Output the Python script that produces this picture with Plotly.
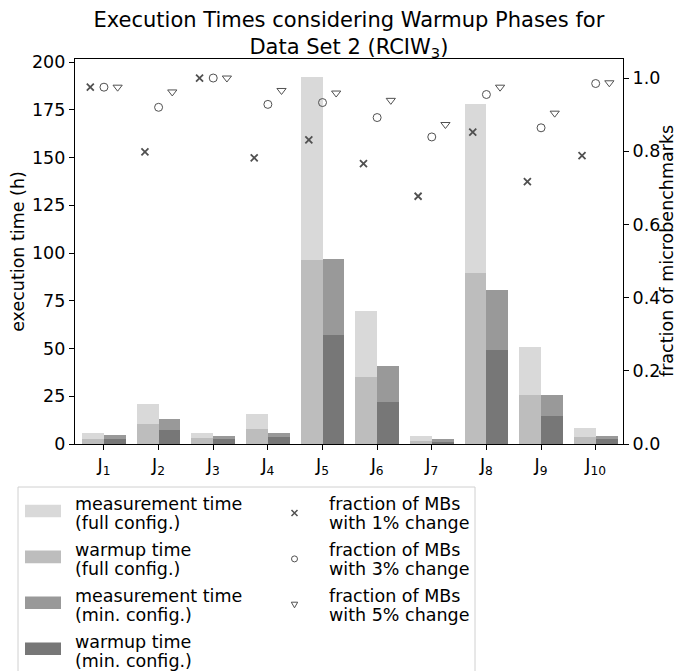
import plotly.graph_objects as go

jobs = ["J<sub>1</sub>", "J<sub>2</sub>", "J<sub>3</sub>", "J<sub>4</sub>", "J<sub>5</sub>",
        "J<sub>6</sub>", "J<sub>7</sub>", "J<sub>8</sub>", "J<sub>9</sub>", "J<sub>10</sub>"]

warmup_full = [2.5, 10.5, 3.3, 7.8, 96.3, 35.0, 1.8, 89.4, 25.4, 3.9]
measure_full = [3.4, 10.4, 2.6, 7.9, 95.9, 34.8, 2.6, 88.6, 25.6, 4.7]
warmup_min = [2.5, 7.3, 2.6, 3.8, 57.0, 22.2, 1.3, 49.4, 14.9, 2.4]
measure_min = [2.0, 5.8, 1.6, 2.0, 39.8, 18.9, 1.1, 31.4, 10.5, 2.0]

frac_1pct = [0.975, 0.798, 1.0, 0.782, 0.831, 0.766, 0.677, 0.852, 0.717, 0.788]
frac_3pct = [0.975, 0.920, 1.0, 0.928, 0.933, 0.892, 0.839, 0.955, 0.864, 0.985]
frac_5pct = [0.975, 0.962, 1.0, 0.966, 0.959, 0.939, 0.873, 0.975, 0.904, 0.987]

bar_labels = ["measurement time<br>(full config.)", "warmup time<br>(full config.)",
              "measurement time<br>(min. config.)", "warmup time<br>(min. config.)"]
marker_labels = ["fraction of MBs<br>with 1% change", "fraction of MBs<br>with 3% change",
                 "fraction of MBs<br>with 5% change"]

C_MEAS_FULL = "#d9d9d9"
C_WARM_FULL = "#bdbdbd"
C_MEAS_MIN = "#999999"
C_WARM_MIN = "#777777"
C_MARK = "#505050"

idx = list(range(len(jobs)))
FONT = "DejaVu Sans"
FS = 17.5
W, H = 678, 671
ML, MR, MT, MB = 75, 55, 59, 227
PW, PH = W - ML - MR, H - MT - MB


def px(xp):
    return (xp - ML) / PW


def py(yp):
    return (H - MB - yp) / PH


fig = go.Figure()

fig.add_trace(go.Bar(x=idx, y=warmup_full, base=0, offset=-0.4, width=0.4,
                     marker=dict(color=C_WARM_FULL, line=dict(width=0)),
                     name="warmup time (full config.)"))
fig.add_trace(go.Bar(x=idx, y=measure_full, base=warmup_full, offset=-0.4, width=0.4,
                     marker=dict(color=C_MEAS_FULL, line=dict(width=0)),
                     name="measurement time (full config.)"))
fig.add_trace(go.Bar(x=idx, y=warmup_min, base=0, offset=0.0, width=0.4,
                     marker=dict(color=C_WARM_MIN, line=dict(width=0)),
                     name="warmup time (min. config.)"))
fig.add_trace(go.Bar(x=idx, y=measure_min, base=warmup_min, offset=0.0, width=0.4,
                     marker=dict(color=C_MEAS_MIN, line=dict(width=0)),
                     name="measurement time (min. config.)"))

fig.add_trace(go.Scatter(x=[i - 0.25 for i in idx], y=frac_1pct, yaxis="y2", mode="markers",
                         marker=dict(symbol="x-thin-open", size=7, color=C_MARK,
                                     line=dict(width=1.8, color=C_MARK)),
                         name="1% change"))
fig.add_trace(go.Scatter(x=idx, y=frac_3pct, yaxis="y2", mode="markers",
                         marker=dict(symbol="circle-open", size=8, color=C_MARK,
                                     line=dict(width=1)),
                         name="3% change"))
fig.add_trace(go.Scatter(x=[i + 0.25 for i in idx], y=frac_5pct, yaxis="y2", mode="markers",
                         marker=dict(symbol="triangle-down-open", size=8, color=C_MARK,
                                     line=dict(width=1)),
                         name="5% change"))

# ---- manual legend (box, swatches, glyphs, text) ----
shapes = []
annotations = []
shapes.append(dict(type="rect", xref="paper", yref="paper",
                   x0=px(18), x1=px(475), y0=py(700), y1=py(487),
                   line=dict(color="#d0d0d0", width=1), fillcolor="white", layer="below"))
row_step = 45.9
L1_OFF, L2_OFF = -6.5, 11.8


def add_text(t, xp, yp):
    annotations.append(dict(text=t, x=px(xp), y=py(yp), xref="paper", yref="paper",
                            xanchor="left", yanchor="middle", showarrow=False,
                            font=dict(size=FS, family=FONT, color="black")))


swatch_colors = [C_MEAS_FULL, C_WARM_FULL, C_MEAS_MIN, C_WARM_MIN]
for k, (lab, col) in enumerate(zip(bar_labels, swatch_colors)):
    yc = 511 + row_step * k
    shapes.append(dict(type="rect", xref="paper", yref="paper",
                       x0=px(25), x1=px(61), y0=py(yc + 6.3), y1=py(yc - 6.3),
                       line=dict(width=0), fillcolor=col))
    l1, l2 = lab.split("<br>")
    add_text(l1, 73, yc + L1_OFF)
    add_text(l2, 73, yc + L2_OFF)

glyph_paths = [
    "M-3,-3L3,3M-3,3L3,-3",
    None,
    "M-3.2,2.6L3.2,2.6L0,-3ZM-3.2,2.6",
]
for k, lab in enumerate(marker_labels):
    yc = 511 + row_step * k
    gx, gy = px(294.5), py(yc + 2)
    if glyph_paths[k] is None:
        shapes.append(dict(type="circle", xref="paper", yref="paper",
                           xsizemode="pixel", ysizemode="pixel", xanchor=gx, yanchor=gy,
                           x0=-3, x1=3, y0=-3, y1=3,
                           line=dict(color=C_MARK, width=1)))
    else:
        w = 1.5 if k == 0 else 1
        shapes.append(dict(type="path", xref="paper", yref="paper",
                           xsizemode="pixel", ysizemode="pixel", xanchor=gx, yanchor=gy,
                           path=glyph_paths[k], line=dict(color=C_MARK, width=w)))
    l1, l2 = lab.split("<br>")
    add_text(l1, 327, yc + L1_OFF)
    add_text(l2, 327, yc + L2_OFF)

# right axis title (placed explicitly so it can sit close to the figure edge)
annotations.append(dict(text="fraction of microbenchmarks", x=px(666.5), y=0.5,
                        xref="paper", yref="paper", xanchor="center", yanchor="middle",
                        textangle=-90, showarrow=False, borderpad=0,
                        font=dict(size=FS, family=FONT, color="black")))

fig.update_layout(
    width=W, height=H,
    margin=dict(l=ML, r=MR, t=MT, b=MB, autoexpand=False),
    paper_bgcolor="white", plot_bgcolor="white",
    font=dict(family=FONT, size=FS, color="black"),
    barmode="overlay", bargap=0,
    showlegend=False,
    title=dict(text="Execution Times considering Warmup Phases for<br>Data Set 2 (RCIW<sub>3</sub>)",
               x=0.5146, xanchor="center", yref="container", y=1 - 26.5 / H, yanchor="top",
               font=dict(family=FONT, size=21, color="black")),
    xaxis=dict(range=[-0.53, 9.5], tickmode="array", tickvals=idx, ticktext=jobs,
               showgrid=False, zeroline=False, showline=True, linecolor="black", linewidth=1.2,
               mirror=True, ticks="outside", ticklen=5, tickcolor="black",
               tickfont=dict(size=FS), automargin=False),
    yaxis=dict(range=[0, 201.6], tickmode="array", tickvals=[0, 25, 50, 75, 100, 125, 150, 175, 200],
               showgrid=False, zeroline=False, showline=True, linecolor="black", linewidth=1.2,
               ticks="outside", ticklen=5, tickcolor="black", automargin=False,
               title=dict(text="execution time (h)", standoff=2, font=dict(size=FS)),
               tickfont=dict(size=FS)),
    yaxis2=dict(range=[0, 1.052], overlaying="y", side="right",
                tickmode="array", tickvals=[0, 0.2, 0.4, 0.6, 0.8, 1.0], tickformat=".1f",
                showgrid=False, zeroline=False, showline=True, linecolor="black", linewidth=1.2,
                ticks="outside", ticklen=5, tickcolor="black", automargin=False,
                tickfont=dict(size=FS)),
    shapes=shapes,
    annotations=annotations,
)

fig.write_html("out.html", config={"displayModeBar": False},
               post_script="document.body.style.margin='0';document.body.style.padding='0';")
